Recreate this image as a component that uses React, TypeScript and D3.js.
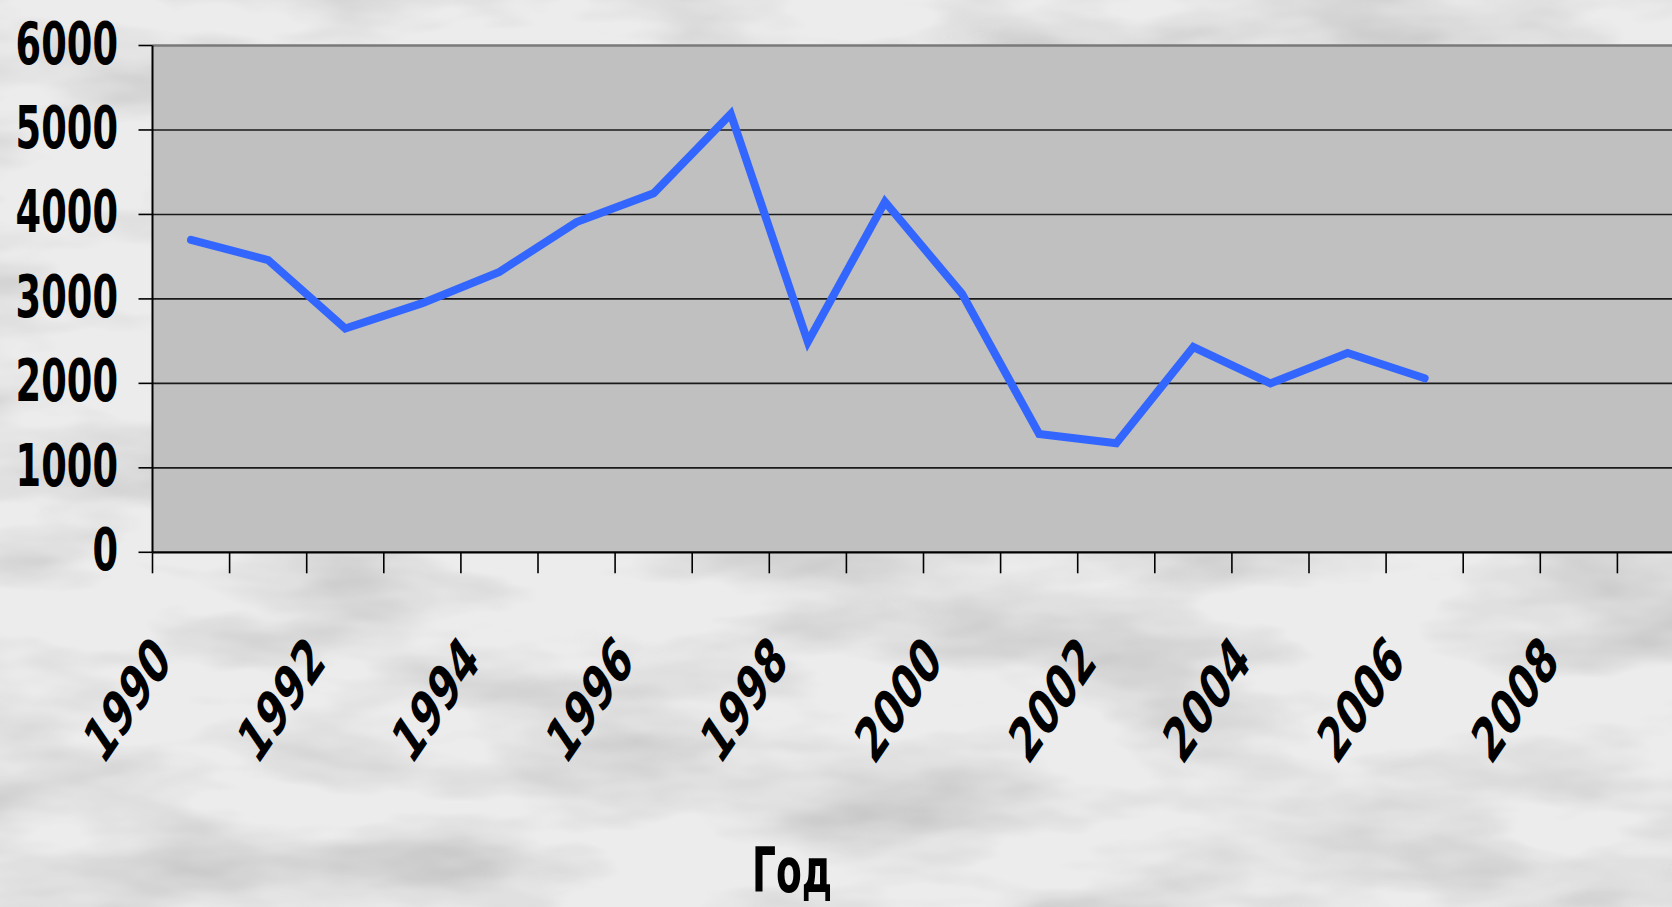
import React from "react";
import * as d3 from "d3";

const categories: number[] = d3.range(1990, 2010);
const years: number[] = [1990, 1991, 1992, 1993, 1994, 1995, 1996, 1997, 1998, 1999, 2000, 2001, 2002, 2003, 2004, 2005, 2006];
const values: number[] = [3700, 3460, 2650, 2950, 3320, 3910, 4250, 5190, 2490, 4150, 3060, 1400, 1290, 2430, 2000, 2360, 2060];
const yTicks: number[] = [0, 1000, 2000, 3000, 4000, 5000, 6000];
const xLabelYears: number[] = [1990, 1992, 1994, 1996, 1998, 2000, 2002, 2004, 2006, 2008];
const xTitle = "Год";

const W = 1672;
const H = 907;
const left = 152.5;
const top = 45.5;
const bottom = 552.3;
const step = 77.1;
const right = left + step * categories.length;

const FONT = "'DejaVu Sans', Verdana, sans-serif";

export default function App() {
  const x = d3.scaleBand<number>().domain(categories).range([left, right]).padding(0);
  const y = d3.scaleLinear().domain([0, 6000]).range([bottom, top]);
  const cx = (yr: number) => (x(yr) as number) + x.bandwidth() / 2;

  const line = d3
    .line<number>()
    .x((_, i) => cx(years[i]))
    .y((d) => y(d));

  const boundaries = d3.range(categories.length + 1).map((i) => left + i * x.bandwidth());

  return (
    <svg
      width={W}
      height={H}
      style={{ position: "absolute", left: 0, top: 0, display: "block" }}
    >
      <defs>
        <filter id="marble" x="0" y="0" width="100%" height="100%">
          <feTurbulence type="fractalNoise" baseFrequency="0.004 0.012" numOctaves="4" seed="7" result="n" />
          <feColorMatrix
            in="n"
            type="matrix"
            values="0 0 0 0 0  0 0 0 0 0  0 0 0 0 0  -1.6 0 0 0 0.95"
          />
        </filter>
        <clipPath id="clip">
          <rect x={0} y={0} width={W} height={H} />
        </clipPath>
      </defs>
      <rect x={0} y={0} width={W} height={H} fill="#ececec" />
      <rect x={0} y={0} width={W} height={H} fill="#000" filter="url(#marble)" opacity={0.22} />

      <g clipPath="url(#clip)">
        {/* plot area */}
        <rect x={left} y={top} width={right - left} height={bottom - top} fill="#c0c0c0" />
        <line x1={left} x2={right} y1={top} y2={top} stroke="#7a7a7a" strokeWidth={2.5} />
        {yTicks
          .filter((t) => t > 0 && t < 6000)
          .map((t) => (
            <line key={t} x1={left} x2={right} y1={y(t)} y2={y(t)} stroke="#1a1a1a" strokeWidth={1.6} />
          ))}
        {/* y axis */}
        <line x1={left} x2={left} y1={top} y2={bottom} stroke="#000" strokeWidth={2} />
        {yTicks.map((t) => (
          <line key={"yt" + t} x1={left - 14} x2={left} y1={y(t)} y2={y(t)} stroke="#000" strokeWidth={1.6} />
        ))}
        {/* x axis */}
        <line x1={left} x2={right} y1={bottom} y2={bottom} stroke="#000" strokeWidth={2.2} />
        {boundaries.map((b, i) => (
          <line key={"xt" + i} x1={b} x2={b} y1={bottom} y2={bottom + 21} stroke="#000" strokeWidth={1.6} />
        ))}

        {/* data line */}
        <path
          d={line(values) || ""}
          fill="none"
          stroke="#3366ff"
          strokeWidth={8}
          strokeLinejoin="miter"
          strokeLinecap="round"
        />

        {/* y labels */}
        {yTicks.map((t) => (
          <text
            key={"yl" + t}
            transform={`translate(118, ${y(t) + 18}) scale(0.92, 1.475)`}
            textAnchor="end"
            fontFamily={FONT}
            fontWeight="bold"
            fontSize={40}
            fill="#000"
          >
            {t}
          </text>
        ))}

        {/* x labels */}
        {xLabelYears.map((yr) => (
          <text
            key={"xl" + yr}
            transform={`translate(${cx(yr) - 18}, 664) scale(1, 1.46) rotate(-45) scale(0.99, 1.2)`}
            textAnchor="end"
            fontFamily={FONT}
            fontWeight="bold"
            fontSize={36}
            fill="#000"
          >
            {yr}
          </text>
        ))}

        {/* axis title */}
        <text
          transform={`translate(792, 891.5) scale(0.94, 1.55)`}
          textAnchor="middle"
          fontFamily={FONT}
          fontWeight="bold"
          fontSize={40}
          fill="#000"
        >
          {xTitle}
        </text>
      </g>
    </svg>
  );
}
